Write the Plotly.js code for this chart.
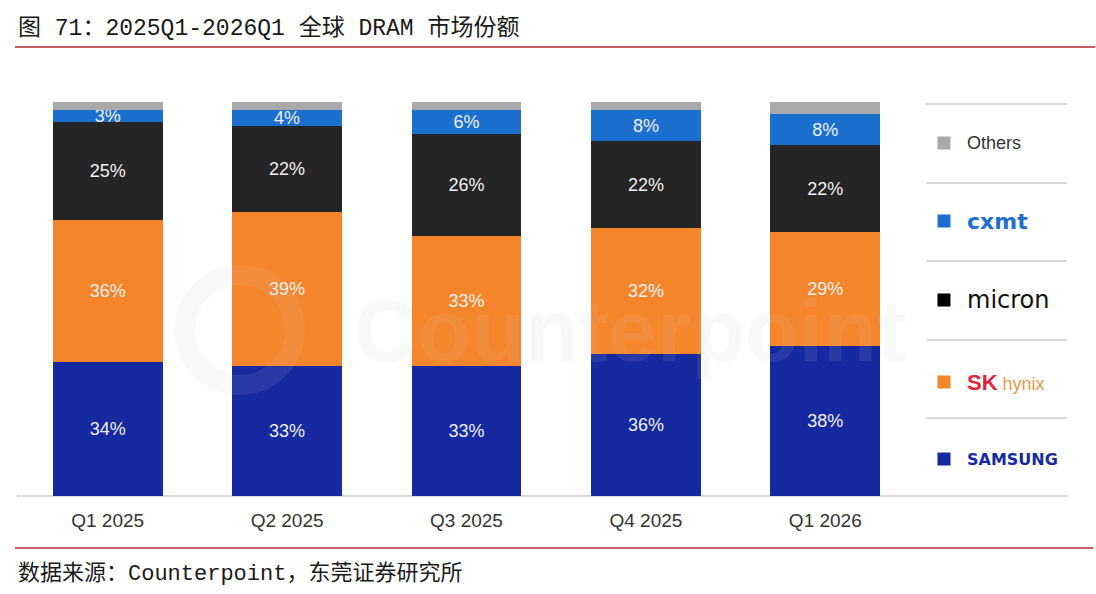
<!DOCTYPE html>
<html>
<head>
<meta charset="utf-8">
<script src="https://cdn.plot.ly/plotly-3.0.1.min.js"></script>
<style>
  html, body { margin: 0; padding: 0; background: #fff; }
  #chart { width: 1096px; height: 594px; }
</style>
</head>
<body>
<div id="chart"></div>
<script>
// 全球 DRAM 市场份额（%）
const quarters = ["Q1 2025", "Q2 2025", "Q3 2025", "Q4 2025", "Q1 2026"];
const samsung = [34, 33, 33, 36, 38];
const skhynix = [36, 39, 33, 32, 29];
const micron  = [25, 22, 26, 22, 22];
const cxmt    = [3, 4, 6, 8, 8];
const others  = [2, 2, 2, 2, 3];

(function () {

    const dom = document.getElementById("chart");

    const C = {
        samsung: "#1529a1",
        sk: "#f5852a",
        micron: "#252525",
        cxmt: "#1b6fce",
        others: "#a9a9a9",
        axis: "#c8c8c8",
        red: "#b3262b",
        text: "#333333"
    };

    const FONT = "Arial, 'Liberation Sans', sans-serif";

    function barTrace(name, values, color, showText) {
        return {
            type: "bar",
            name: name,
            x: quarters,
            y: values,
            width: 0.613,
            marker: { color: color, line: { width: 0 } },
            text: showText ? values.map(v => v + "%") : null,
            textposition: showText ? "inside" : "none",
            insidetextanchor: "middle",
            constraintext: "none",
            textangle: 0,
            textfont: { family: FONT, size: 18, color: "#f0f0f0" },
            hoverinfo: "skip",
            showlegend: false
        };
    }

    const traces = [
        barTrace("SAMSUNG", samsung, C.samsung, true),
        barTrace("SK hynix", skhynix, C.sk, true),
        barTrace("micron", micron, C.micron, true),
        barTrace("cxmt", cxmt, C.cxmt, true),
        barTrace("Others", others, C.others, false)
    ];

    // plot area: x 18..915.5 px, y 102..496 px
    const L = 18, R = 915.5, T = 102, B = 496;
    const px = x => (x - L) / (R - L);
    const py = y => (B - y) / (B - T);

    // custom legend (top to bottom)
    const legendItems = [
        { color: C.others, y: 143, text: "Others", font: { family: FONT, size: 18, color: "#333" } },
        { color: C.cxmt, y: 221, text: "<b>cxmt</b>", font: { family: "Verdana, 'DejaVu Sans', sans-serif", size: 22, color: C.cxmt } },
        { color: "#000000", y: 300, text: "micron", font: { family: "'DejaVu Sans', sans-serif", size: 24, color: "#111" } },
        { color: C.sk, y: 382, text: "<b><span style='color:#e0253a;font-size:22px'>SK</span></b><span style='color:#e59a4a;font-size:18px'> hynix</span>", font: { family: FONT, size: 18, color: "#e0253a" } },
        { color: C.samsung, y: 459, text: "<b>SAMSUNG</b>", font: { family: "'DejaVu Sans', sans-serif", size: 16, color: C.samsung } }
    ];
    const sepY = [104, 183, 261, 340, 418];

    const shapes = [];
    // faint watermark logo ring
    shapes.push({
        type: "circle", xref: "paper", yref: "paper",
        x0: px(185), x1: px(295), y0: py(385), y1: py(275),
        line: { color: "rgba(200,200,200,0.11)", width: 20 }, layer: "above"
    });
    sepY.forEach(y => {
        shapes.push({
            type: "line", xref: "paper", yref: "paper",
            x0: px(927), x1: px(1067), y0: py(y), y1: py(y),
            line: { color: C.axis, width: 1.5 }
        });
    });
    legendItems.forEach(it => {
        shapes.push({
            type: "rect", xref: "paper", yref: "paper",
            x0: px(938), x1: px(951), y0: py(it.y + 6.5), y1: py(it.y - 6.5),
            fillcolor: it.color, line: { width: 0 }
        });
    });
    // baseline
    shapes.push({
        type: "line", xref: "paper", yref: "paper",
        x0: px(17), x1: px(1068), y0: py(496), y1: py(496),
        line: { color: C.axis, width: 1.5 }, layer: "below"
    });
    // red rules
    shapes.push({
        type: "line", xref: "paper", yref: "paper",
        x0: px(15), x1: px(1096), y0: py(47), y1: py(47),
        line: { color: C.red, width: 1.5 }
    });
    shapes.push({
        type: "line", xref: "paper", yref: "paper",
        x0: px(15), x1: px(1094), y0: py(548), y1: py(548),
        line: { color: C.red, width: 1.5 }
    });

    const annotations = legendItems.map(it => ({
        text: it.text,
        xref: "paper", yref: "paper",
        x: px(966), y: py(it.y),
        xanchor: "left", yanchor: "middle",
        showarrow: false,
        font: it.font
    }));

    annotations.push({
        text: "图 71：2025Q1-2026Q1 全球 DRAM 市场份额",
        xref: "paper", yref: "paper",
        x: px(16), y: py(28),
        xanchor: "left", yanchor: "middle",
        showarrow: false,
        font: { family: "'Liberation Mono', 'Noto Sans CJK SC', monospace", size: 23, color: "#1a1a1a" }
    });
    annotations.push({
        text: "数据来源：Counterpoint，东莞证券研究所",
        xref: "paper", yref: "paper",
        x: px(16), y: py(574),
        xanchor: "left", yanchor: "middle",
        showarrow: false,
        font: { family: "'Liberation Mono', 'Noto Sans CJK SC', monospace", size: 22, color: "#1a1a1a" }
    });
    // faint watermark
    annotations.push({
        text: "<b>Counterpoint</b>",
        xref: "paper", yref: "paper",
        x: px(630), y: py(330),
        xanchor: "center", yanchor: "middle",
        showarrow: false,
        font: { family: FONT, size: 88, color: "rgba(200,200,200,0.11)" }
    });

    const layout = {
        width: 1096,
        height: 594,
        barmode: "stack",
        paper_bgcolor: "#ffffff",
        plot_bgcolor: "rgba(0,0,0,0)",
        margin: { l: L, r: 1096 - R, t: T, b: 594 - B, pad: 0 },
        font: { family: FONT },
        xaxis: {
            type: "category",
            range: [-0.5, 4.5],
            showgrid: false,
            showline: false,
            zeroline: false,
            ticks: "outside",
            ticklen: 7,
            tickcolor: "rgba(0,0,0,0)",
            tickfont: { family: FONT, size: 19, color: C.text },
            fixedrange: true
        },
        yaxis: {
            range: [0, 100],
            showgrid: false,
            showline: false,
            zeroline: false,
            showticklabels: false,
            fixedrange: true
        },
        shapes: shapes,
        annotations: annotations
    };

    Plotly.newPlot(dom, traces, layout, { displayModeBar: false, staticPlot: true });

})();
</script>
</body>
</html>
